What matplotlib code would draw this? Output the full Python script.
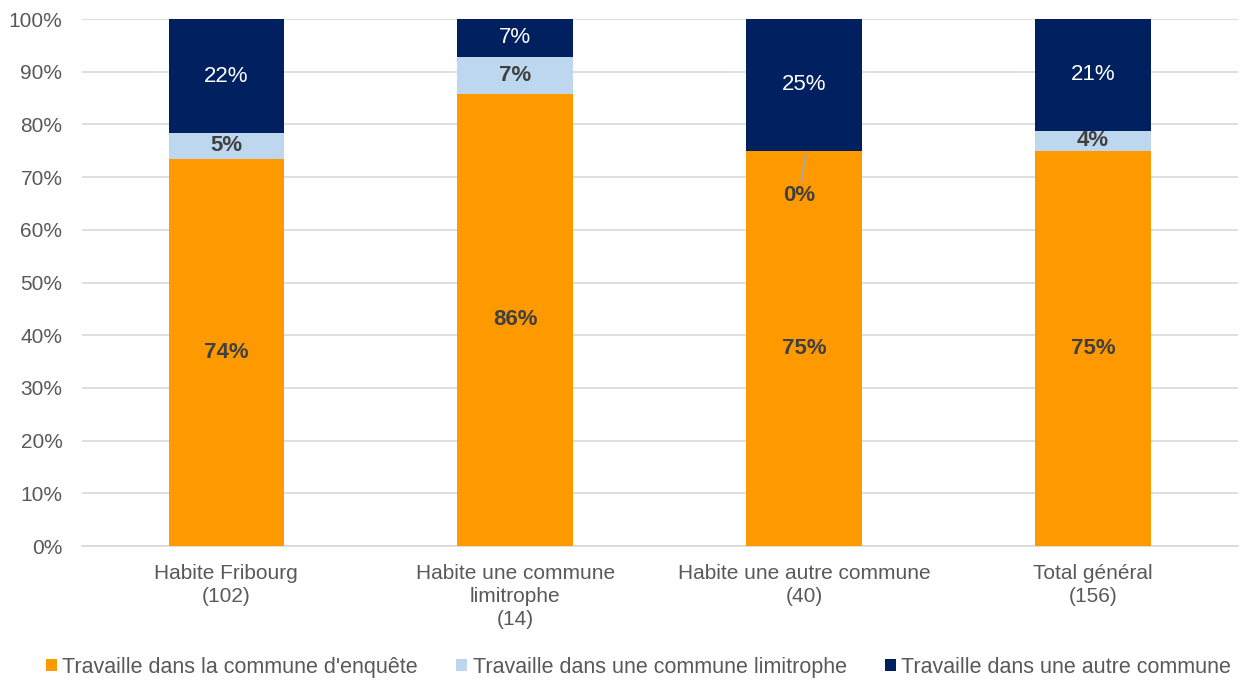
import numpy as np
import matplotlib.pyplot as plt
from matplotlib.ticker import PercentFormatter

plt.rcParams['font.family'] = ['Liberation Sans', 'DejaVu Sans']

# Data (shares in %)
categories = ["Habite Fribourg\n(102)", "Habite une commune\nlimitrophe\n(14)",
              "Habite une autre commune\n(40)", "Total général\n(156)"]
series_names = ["Travaille dans la commune d'enquête",
                "Travaille dans une commune limitrophe",
                "Travaille dans une autre commune"]
meme_commune = [73.5, 85.8, 75.0, 75.0]
limitrophe = [4.9, 7.1, 0.0, 3.8]
autre_commune = [21.6, 7.1, 25.0, 21.2]

colors = ["#FF9900", "#BDD7EE", "#002060"]
label_colors = ["#404040", "#404040", "white"]
label_weights = ["bold", "bold", "normal"]

fig = plt.figure(figsize=(12.4, 6.82), dpi=100)
ax = fig.add_axes([0.066, 0.1994, 0.932, 0.7726])

x = np.arange(len(categories))
bottom = np.zeros(len(categories))
for vals, col, lc, lw, name in zip([meme_commune, limitrophe, autre_commune],
                                    colors, label_colors, label_weights, series_names):
    vals = np.array(vals)
    ax.bar(x, vals, 0.4, bottom=bottom, color=col, label=name, zorder=3)
    for xi, b, v in zip(x, bottom, vals):
        if v == 0:
            # zero segment: label pulled down with a leader line
            ax.annotate(f"{v:.0f}%", xy=(xi + 0.005, b + v - 0.8), xytext=(xi - 0.017, 66.5),
                        ha='center', va='center', fontsize=16, color=lc, fontweight=lw,
                        arrowprops=dict(arrowstyle='-', color='#a6a6a6', lw=1.5,
                                        shrinkA=1, shrinkB=0), zorder=5)
        else:
            ax.text(xi, b + v / 2, f"{v:.0f}%", ha='center', va='center',
                    fontsize=16, color=lc, fontweight=lw, zorder=4)
    bottom += vals

ax.set_xlim(-0.5, 3.5)
ax.set_ylim(0, 100)
ax.set_yticks(np.arange(0, 101, 10))
ax.yaxis.set_major_formatter(PercentFormatter(decimals=0))
ax.set_xticks(x)
ax.set_xticklabels(categories, fontsize=15, color='#595959', linespacing=1.25)
ax.tick_params(axis='y', labelsize=15, labelcolor='#595959', length=0, pad=14)
ax.tick_params(axis='x', length=0, pad=13)
ax.grid(axis='y', color='#d9d9d9', lw=1.2, zorder=0)
for s in ['top', 'right', 'left']:
    ax.spines[s].set_visible(False)
ax.spines['bottom'].set_color('#d9d9d9')
ax.spines['bottom'].set_linewidth(1.2)

fig.legend(loc='lower center', bbox_to_anchor=(0.515, -0.022), ncol=3, frameon=False,
           fontsize=15.5, handlelength=0.5, handleheight=0.5, handletextpad=0.25,
           columnspacing=1.8, labelcolor='#595959')

fig.savefig("out.png", dpi=100)
